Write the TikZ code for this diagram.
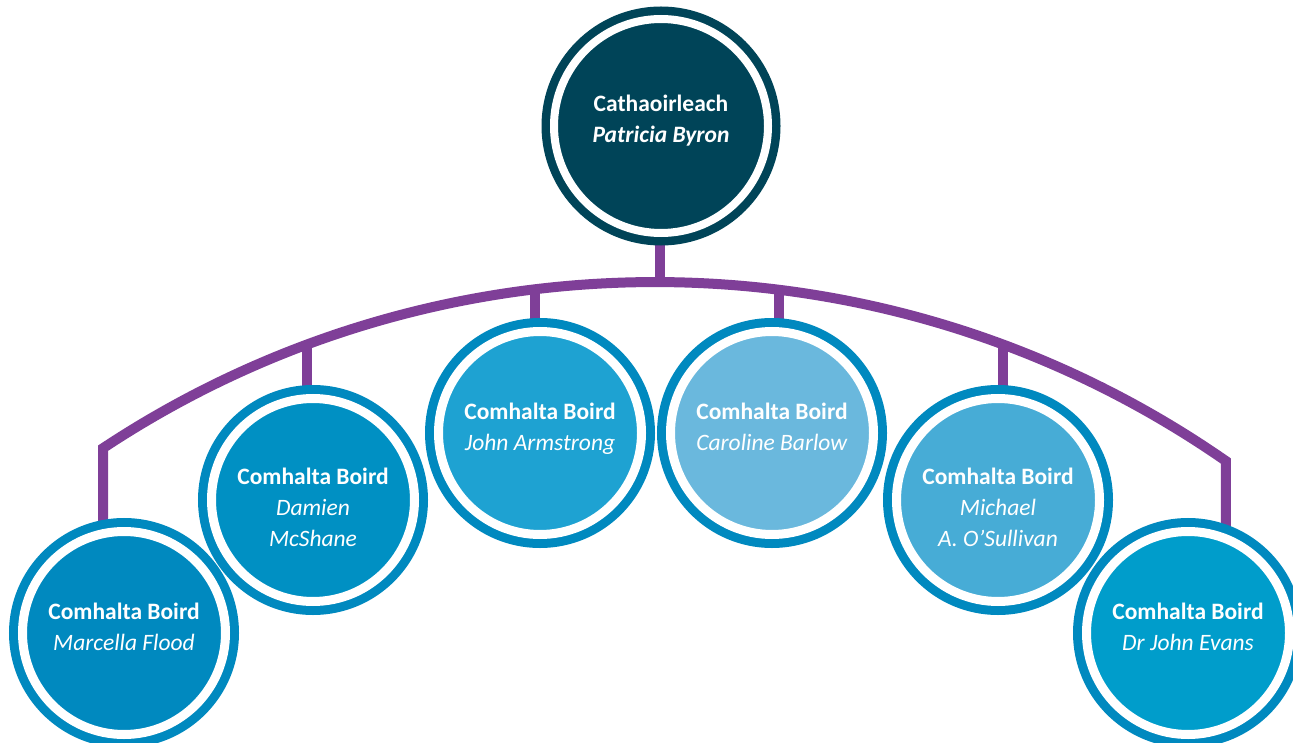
\documentclass[tikz,border=0pt]{standalone}
\usepackage{fontspec}
\setmainfont{Carlito}
\usetikzlibrary{backgrounds,calc}
\definecolor{topfill}{HTML}{004458}
\definecolor{ring}{HTML}{0089BF}
\definecolor{fillA}{HTML}{0089BF}
\definecolor{fillB}{HTML}{0090C3}
\definecolor{fillC}{HTML}{1EA2D2}
\definecolor{fillD}{HTML}{6AB8DD}
\definecolor{fillE}{HTML}{47ACD6}
\definecolor{fillF}{HTML}{009DCB}
\definecolor{purp}{HTML}{7F3F98}
\begin{document}
\begin{tikzpicture}[x=1pt,y=1pt,
  member/.style={circle, inner sep=0pt, outer sep=0pt, minimum size=203pt,
    fill=#1, draw=white, line width=9pt, preaction={draw=ring, line width=27pt}},
  chair/.style={circle, inner sep=0pt, outer sep=0pt, minimum size=214pt,
    fill=topfill, draw=white, line width=8pt, preaction={draw=topfill, line width=25pt}},
  txt/.style={text=white, align=center, inner sep=0pt, font=\fontsize{23.5}{31}\selectfont},
  conn/.style={draw=purp, line width=10pt}]
\useasboundingbox (0,0) rectangle (1293,-743);
\clip (0,0) rectangle (1293,-743);

\node[chair] (top) at (661,-126) {};
\node[member=fillA] (m1) at (124,-633) {};
\node[member=fillB] (m2) at (313,-500) {};
\node[member=fillC] (m3) at (540,-433) {};
\node[member=fillD] (m4) at (772,-433) {};
\node[member=fillE] (m5) at (998,-500) {};
\node[member=fillF] (m6) at (1188,-633) {};

\node[txt] (t0) at ($(top)+(0,5.8)$) {\textbf{Cathaoirleach}\\\textbf{\textit{Patricia Byron}}};
\node[txt] (t1) at ($(m1)+(0,5.8)$) {\textbf{Comhalta Boird}\\\textit{Marcella Flood}};
\node[txt] (t2) at ($(m2)+(0,-7)$) {\textbf{Comhalta Boird}\\\textit{Damien}\\\textit{McShane}};
\node[txt] (t3) at ($(m3)+(0,4.5)$) {\textbf{Comhalta Boird}\\\textit{John Armstrong}};
\node[txt] (t4) at ($(m4)+(0,5.8)$) {\textbf{Comhalta Boird}\\\textit{Caroline Barlow}};
\node[txt] (t5) at ($(m5)+(0,-7)$) {\textbf{Comhalta Boird}\\\textit{Michael}\\\textit{A. O’Sullivan}};
\node[txt] (t6) at ($(m6)+(0,5.8)$) {\textbf{Comhalta Boird}\\\textit{Dr John Evans}};

\coordinate (C) at (655,-1282);
\coordinate (aL) at ($(C)+(123.5:1000)$);
\coordinate (a2) at ($(C)+(110.37:1000)$);
\coordinate (a3) at ($(C)+(96.89:1000)$);
\coordinate (a0) at ($(C)+(89.71:1000)$);
\coordinate (a4) at ($(C)+(82.88:1000)$);
\coordinate (a5) at ($(C)+(69.63:1000)$);
\coordinate (aR) at ($(C)+(55.18:1000)$);

\begin{pgfonlayer}{background}
\draw[conn, line join=miter] (aL |- m1.center) -- (aL)
  arc[start angle=123.5, end angle=55.18, radius=1000] -- (aR |- m6.center);
\draw[conn] (a0 |- top.center) -- (a0);
\draw[conn] (a2) -- (a2 |- m2.center);
\draw[conn] (a3) -- (a3 |- m3.center);
\draw[conn] (a4) -- (a4 |- m4.center);
\draw[conn] (a5) -- (a5 |- m5.center);
\end{pgfonlayer}
\end{tikzpicture}
\end{document}
